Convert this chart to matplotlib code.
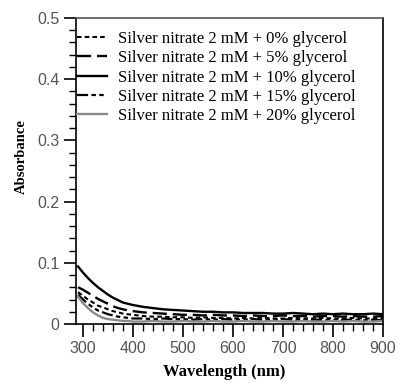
import matplotlib
matplotlib.use("Agg")
import matplotlib.pyplot as plt
from matplotlib.ticker import MultipleLocator

wavelength = [290, 300, 310, 320, 330, 340, 350, 360, 370, 380, 390, 400,
              420, 440, 460, 480, 500, 520, 540, 560, 580, 600, 620, 640, 660,
              680, 700, 720, 740, 760, 780, 800, 820, 840, 860, 880, 900]

g0 = [0.052, 0.046, 0.040, 0.035, 0.030, 0.027, 0.024, 0.021, 0.019, 0.017, 0.016, 0.015,
      0.013, 0.012, 0.012, 0.011, 0.011, 0.010, 0.011, 0.010, 0.010, 0.009, 0.010, 0.009, 0.010,
      0.009, 0.009, 0.010, 0.009, 0.009, 0.010, 0.009, 0.009, 0.010, 0.009, 0.009, 0.010]
g5 = [0.060, 0.056, 0.051, 0.046, 0.041, 0.037, 0.033, 0.029, 0.026, 0.024, 0.022, 0.021,
      0.019, 0.018, 0.017, 0.016, 0.015, 0.015, 0.014, 0.015, 0.014, 0.014, 0.013, 0.014, 0.013,
      0.013, 0.014, 0.013, 0.013, 0.012, 0.013, 0.013, 0.012, 0.013, 0.012, 0.012, 0.013]
g10 = [0.094, 0.084, 0.075, 0.067, 0.060, 0.054, 0.048, 0.043, 0.039, 0.035, 0.033, 0.031,
       0.028, 0.026, 0.024, 0.023, 0.022, 0.021, 0.020, 0.020, 0.019, 0.019, 0.018, 0.018, 0.018,
       0.017, 0.017, 0.018, 0.017, 0.016, 0.017, 0.016, 0.017, 0.016, 0.016, 0.017, 0.016]
g15 = [0.048, 0.040, 0.033, 0.027, 0.022, 0.019, 0.016, 0.014, 0.012, 0.011, 0.010, 0.009,
       0.009, 0.008, 0.009, 0.008, 0.008, 0.007, 0.008, 0.007, 0.008, 0.007, 0.007, 0.008, 0.007,
       0.007, 0.008, 0.007, 0.006, 0.007, 0.007, 0.006, 0.007, 0.007, 0.006, 0.007, 0.006]
g20 = [0.045, 0.034, 0.026, 0.019, 0.014, 0.010, 0.008, 0.007, 0.006, 0.005, 0.005, 0.004,
       0.004, 0.005, 0.004, 0.004, 0.005, 0.004, 0.004, 0.005, 0.004, 0.004, 0.005, 0.004, 0.004,
       0.005, 0.004, 0.004, 0.005, 0.004, 0.004, 0.005, 0.004, 0.005, 0.004, 0.004, 0.005]

labels = ["Silver nitrate 2 mM + 0% glycerol",
          "Silver nitrate 2 mM + 5% glycerol",
          "Silver nitrate 2 mM + 10% glycerol",
          "Silver nitrate 2 mM + 15% glycerol",
          "Silver nitrate 2 mM + 20% glycerol"]

fig = plt.figure(figsize=(3.98, 3.83), dpi=100)
ax = fig.add_axes([76/398, 59/383, 307/398, 306/383])

ax.plot(wavelength, g0, color="black", lw=1.5, dashes=(2.2, 1.5), label=labels[0])
ax.plot(wavelength, g5, color="black", lw=1.7, dashes=(6, 2.5), label=labels[1])
ax.plot(wavelength, g10, color="black", lw=1.7, label=labels[2])
ax.plot(wavelength, g15, color="black", lw=1.6, dashes=(5, 1.5, 2, 1.5, 2, 1.5), label=labels[3])
ax.plot(wavelength, g20, color="#8a8a8a", lw=1.7, label=labels[4])

ax.set_xlim(286, 900)
ax.set_ylim(0, 0.5)
ax.xaxis.set_major_locator(MultipleLocator(100))
ax.xaxis.set_minor_locator(MultipleLocator(20))
ax.yaxis.set_minor_locator(MultipleLocator(0.02))
ax.set_yticks([0, 0.1, 0.2, 0.3, 0.4, 0.5])
ax.set_yticklabels(["0", "0.1", "0.2", "0.3", "0.4", "0.5"])

ax.tick_params(which="major", direction="out", length=9, width=1.2, colors="black",
               labelcolor="#555555", labelsize=11.5, pad=3)
ax.tick_params(which="minor", direction="out", length=5, width=1.0, colors="black")
for lab in ax.get_xticklabels() + ax.get_yticklabels():
    lab.set_family("Liberation Sans")

for s in ax.spines.values():
    s.set_linewidth(1.2)
ax.spines["top"].set_color("#555555")

ax.set_xlabel("Wavelength (nm)", family="Liberation Serif", fontweight="bold", fontsize=12)
ax.set_ylabel("Absorbance", family="Liberation Serif", fontweight="bold", fontsize=10.5)
ax.xaxis.set_label_coords((224 - 76) / 307, -(372 - 324) / 306)
ax.yaxis.set_label_coords(-(76 - 21) / 307, (324 - 157) / 306)
ax.xaxis.label.set_va("center")
ax.yaxis.label.set_va("center")

ax.legend(loc="upper left", bbox_to_anchor=(0.003, 0.958), frameon=False,
          prop={"family": "Liberation Serif", "size": 12}, borderpad=0,
          borderaxespad=0, labelspacing=0.2, handlelength=1.8, handletextpad=0.65)

fig.savefig("out.png", dpi=100)
